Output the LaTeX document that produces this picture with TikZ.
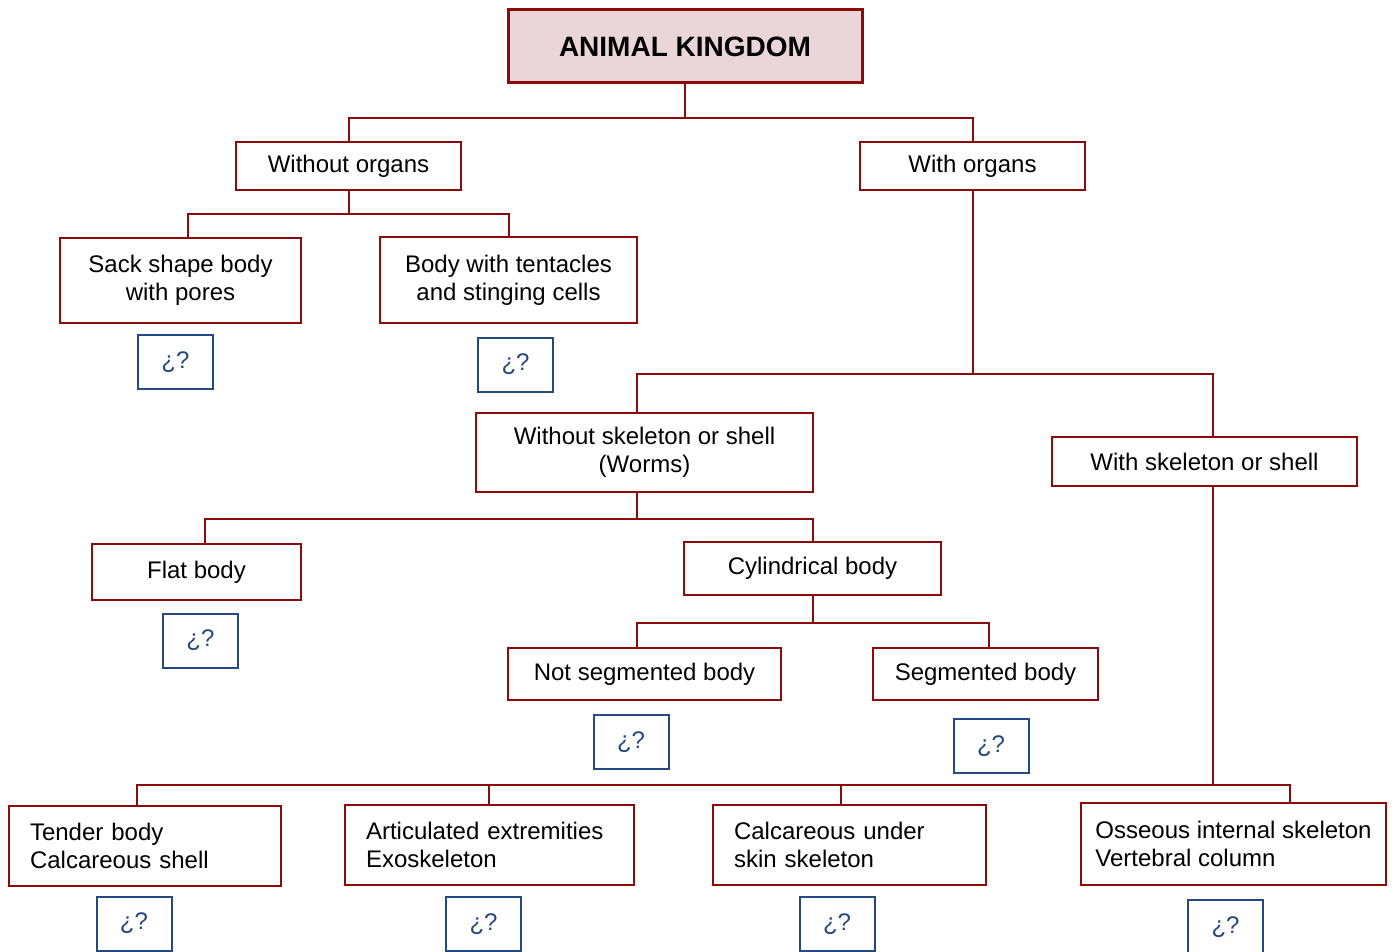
\documentclass[tikz,border=0pt]{standalone}
\usepackage{fontspec}
\setmainfont{Liberation Sans}
\usetikzlibrary{calc}
\definecolor{boxred}{RGB}{140,10,10}
\definecolor{qblue}{RGB}{36,72,128}
\definecolor{titlepink}{RGB}{234,214,216}
\begin{document}
\begin{tikzpicture}
  [x=0.75pt,y=-0.75pt,
   every node/.style={inner sep=0pt,font=\fontsize{18}{21}\selectfont},
   size/.style 2 args={minimum width=#1*0.75pt,minimum height=#2*0.75pt},
   redbox/.style={draw=boxred,line width=1.5pt,align=center},
   leftbox/.style={draw=boxred,line width=1.5pt,align=left,text width=#1*0.75pt},
   qbox/.style={draw=qblue,line width=1.5pt,text=qblue,size={75}{54}},
   title/.style={draw=boxred,fill=titlepink,line width=2.25pt,
     font=\fontsize{21}{24}\selectfont\bfseries}]
\useasboundingbox (0,0) rectangle (1395,952);
  \node[title,size={354}{73}] (title) at (685,46.5) {ANIMAL KINGDOM};

  \node[redbox,size={225}{48}] (noorg) at (348.5,166) {Without organs};
  \node[redbox,size={225}{48}] (org) at (972.5,166) {With organs};

  \node[redbox,size={241}{85}] (sack) at (180.5,280.5) {Sack shape body\\with pores};
  \node[redbox,size={257}{86}] (tent) at (508.5,280) {Body with tentacles\\and stinging cells};
  \node[qbox] (q1) at (175.5,362) {¿?};
  \node[qbox] (q2) at (515.5,364.5) {¿?};

  \node[redbox,size={337}{79}] (worms) at (644.5,452.5) {Without skeleton or shell\\(Worms)};
  \node[redbox,size={305}{49}] (skel) at (1204.5,461.5) {With skeleton or shell};

  \node[redbox,size={209}{56}] (flat) at (196.5,572) {Flat body};
  \node[redbox,size={257}{53}] (cyl) at (812.5,568.5) {Cylindrical body};
  \node[qbox] (q3) at (200.5,640.5) {¿?};

  \node[redbox,size={273}{52}] (notseg) at (644.5,674) {Not segmented body};
  \node[redbox,size={225}{52}] (seg) at (985.5,674) {Segmented body};
  \node[qbox] (q4) at (631,742) {¿?};
  \node[qbox] (q5) at (991,746) {¿?};

  \node[leftbox=230,size={272}{80}] (tender) at (145,846) {Tender body\\Calcareous shell};
  \node[leftbox=247,size={289}{80}] (arti) at (489.5,845) {Articulated extremities\\Exoskeleton};
  \node[leftbox=231,size={273}{80}] (calc) at (849.5,845) {Calcareous under\\skin skeleton};
  \node[redbox,align=left,size={305}{82}] (osse) at (1233.5,844) {Osseous internal skeleton\\Vertebral column};
  \node[qbox] (q6) at (134,923.5) {¿?};
  \node[qbox] (q7) at (483.5,924) {¿?};
  \node[qbox] (q8) at (837,924) {¿?};
  \node[qbox] (q9) at (1225.5,927) {¿?};

  % tree connectors
  \foreach \from/\fx/\drop/\to/\tx in {
      title/0/34/noorg/0, title/0/34/org/0,
      noorg/0/23/sack/7.5, noorg/0/23/tent/0.5,
      org/0/183/worms/-7.5, org/0/183/skel/8.5,
      worms/-7.5/26/flat/8.5, worms/-7.5/26/cyl/0.5,
      cyl/0/27/notseg/-7.5, cyl/0/27/seg/3.5,
      skel/8.5/298/tender/-8, skel/8.5/298/arti/-0.5,
      skel/8.5/298/calc/-8.5, skel/8.5/298/osse/56.5}
    \draw[boxred,line width=1.5pt] ($(\from.south)+(\fx,0)$) -- ++(0,\drop) -| ($(\to.north)+(\tx,0)$);
\end{tikzpicture}
\end{document}
